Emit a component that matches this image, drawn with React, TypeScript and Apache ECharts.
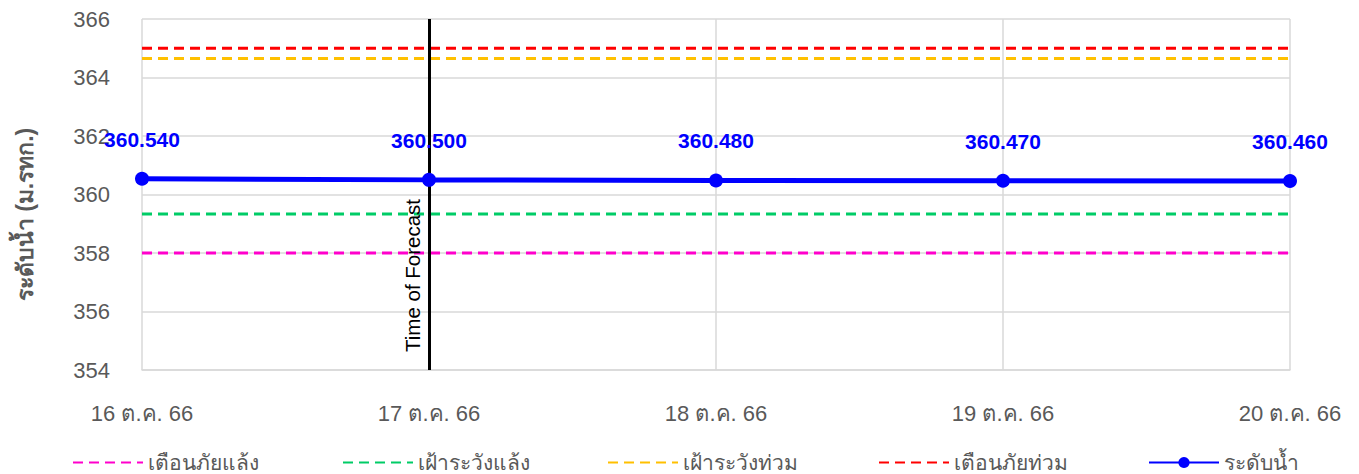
import React, { useEffect, useRef } from "react";
import * as echarts from "echarts";

const categories = ["16 ต.ค. 66", "17 ต.ค. 66", "18 ต.ค. 66", "19 ต.ค. 66", "20 ต.ค. 66"];
const waterLevel = [360.54, 360.5, 360.48, 360.47, 360.46];
const droughtWarning = 358.0; // เตือนภัยแล้ง
const droughtWatch = 359.33; // เฝ้าระวังแล้ง
const floodWatch = 364.65; // เฝ้าระวังท่วม
const floodWarning = 365.0; // เตือนภัยท่วม
const forecastCategory = "17 ต.ค. 66";
const yTicks = { min: 354, max: 366, interval: 2 };

const FONT = "'Liberation Sans', Arial, sans-serif";
const GRAY = "#595959";

export default function App() {
  const ref = useRef<HTMLDivElement>(null);
  useEffect(() => {
    document.body.style.margin = "0";
    const chart = echarts.init(ref.current!, null, { renderer: "svg" });
    const thresholds = [
      { name: "เตือนภัยแล้ง", value: droughtWarning, color: "#ff00cc", left: 67 },
      { name: "เฝ้าระวังแล้ง", value: droughtWatch, color: "#00cc66", left: 337 },
      { name: "เฝ้าระวังท่วม", value: floodWatch, color: "#ffc000", left: 602 },
      { name: "เตือนภัยท่วม", value: floodWarning, color: "#ff0000", left: 873 },
    ];
    const legendCommon = {
      top: 447,
      itemWidth: 70,
      itemHeight: 14,
      itemGap: 5,
      textStyle: { fontFamily: FONT, fontSize: 21, color: GRAY },
    };
    const option: any = {
      animation: false,
      grid: { left: 142, right: 69, top: 19, bottom: 104 },
      legend: [
        ...thresholds.map((t) => ({
          ...legendCommon,
          left: t.left,
          data: [t.name],
          itemStyle: { color: "transparent", borderWidth: 0, opacity: 0 },
        })),
        { ...legendCommon, left: 1143, data: ["ระดับน้ำ"] },
      ],
      xAxis: {
        type: "category",
        data: categories,
        boundaryGap: false,
        axisLine: { show: true, lineStyle: { color: "#d9d9d9", width: 1.5 } },
        axisTick: { show: false },
        splitLine: { show: true, lineStyle: { color: "#d9d9d9", width: 1.5 } },
        axisLabel: { fontFamily: FONT, fontSize: 22, color: GRAY, margin: 32 },
      },
      yAxis: {
        type: "value",
        min: yTicks.min,
        max: yTicks.max,
        interval: yTicks.interval,
        name: "ระดับน้ำ (ม.รทก.)",
        nameLocation: "middle",
        nameGap: 106,
        nameTextStyle: {
          fontFamily: FONT,
          fontSize: 23,
          color: GRAY,
          fontWeight: "bold",
          padding: [0, 40, 0, 0],
        },
        axisLine: { show: false },
        axisTick: { show: false },
        splitLine: { show: true, lineStyle: { color: "#d9d9d9", width: 1.5 } },
        axisLabel: { fontFamily: FONT, fontSize: 22, color: GRAY, margin: 32 },
      },
      series: [
        ...thresholds.map((t) => ({
          name: t.name,
          type: "line",
          data: categories.map(() => t.value),
          symbol: "none",
          lineStyle: { color: t.color, width: 3, type: [10, 6] },
          itemStyle: { color: t.color },
          z: 2,
        })),
        {
          name: "ระดับน้ำ",
          type: "line",
          data: waterLevel,
          symbol: "circle",
          symbolSize: 14,
          lineStyle: { color: "#0000ff", width: 5 },
          itemStyle: { color: "#0000ff" },
          z: 5,
          label: {
            show: true,
            position: "top",
            distance: 22,
            fontFamily: FONT,
            fontSize: 21,
            fontWeight: "bold",
            color: "#0000ff",
            formatter: (p: any) => p.value.toFixed(3),
          },
          markLine: {
            silent: true,
            symbol: "none",
            lineStyle: { color: "#000000", width: 3, type: "solid" },
            label: {
              show: true,
              position: "insideStartTop",
              formatter: "Time of Forecast",
              fontFamily: FONT,
              fontSize: 20.5,
              color: "#000000",
              distance: 6,
              padding: [0, 0, 0, 12],
            },
            data: [{ xAxis: forecastCategory }],
          },
        },
      ],
    };
    chart.setOption(option);
    return () => chart.dispose();
  }, []);
  return <div ref={ref} style={{ width: 1359, height: 474 }} />;
}
